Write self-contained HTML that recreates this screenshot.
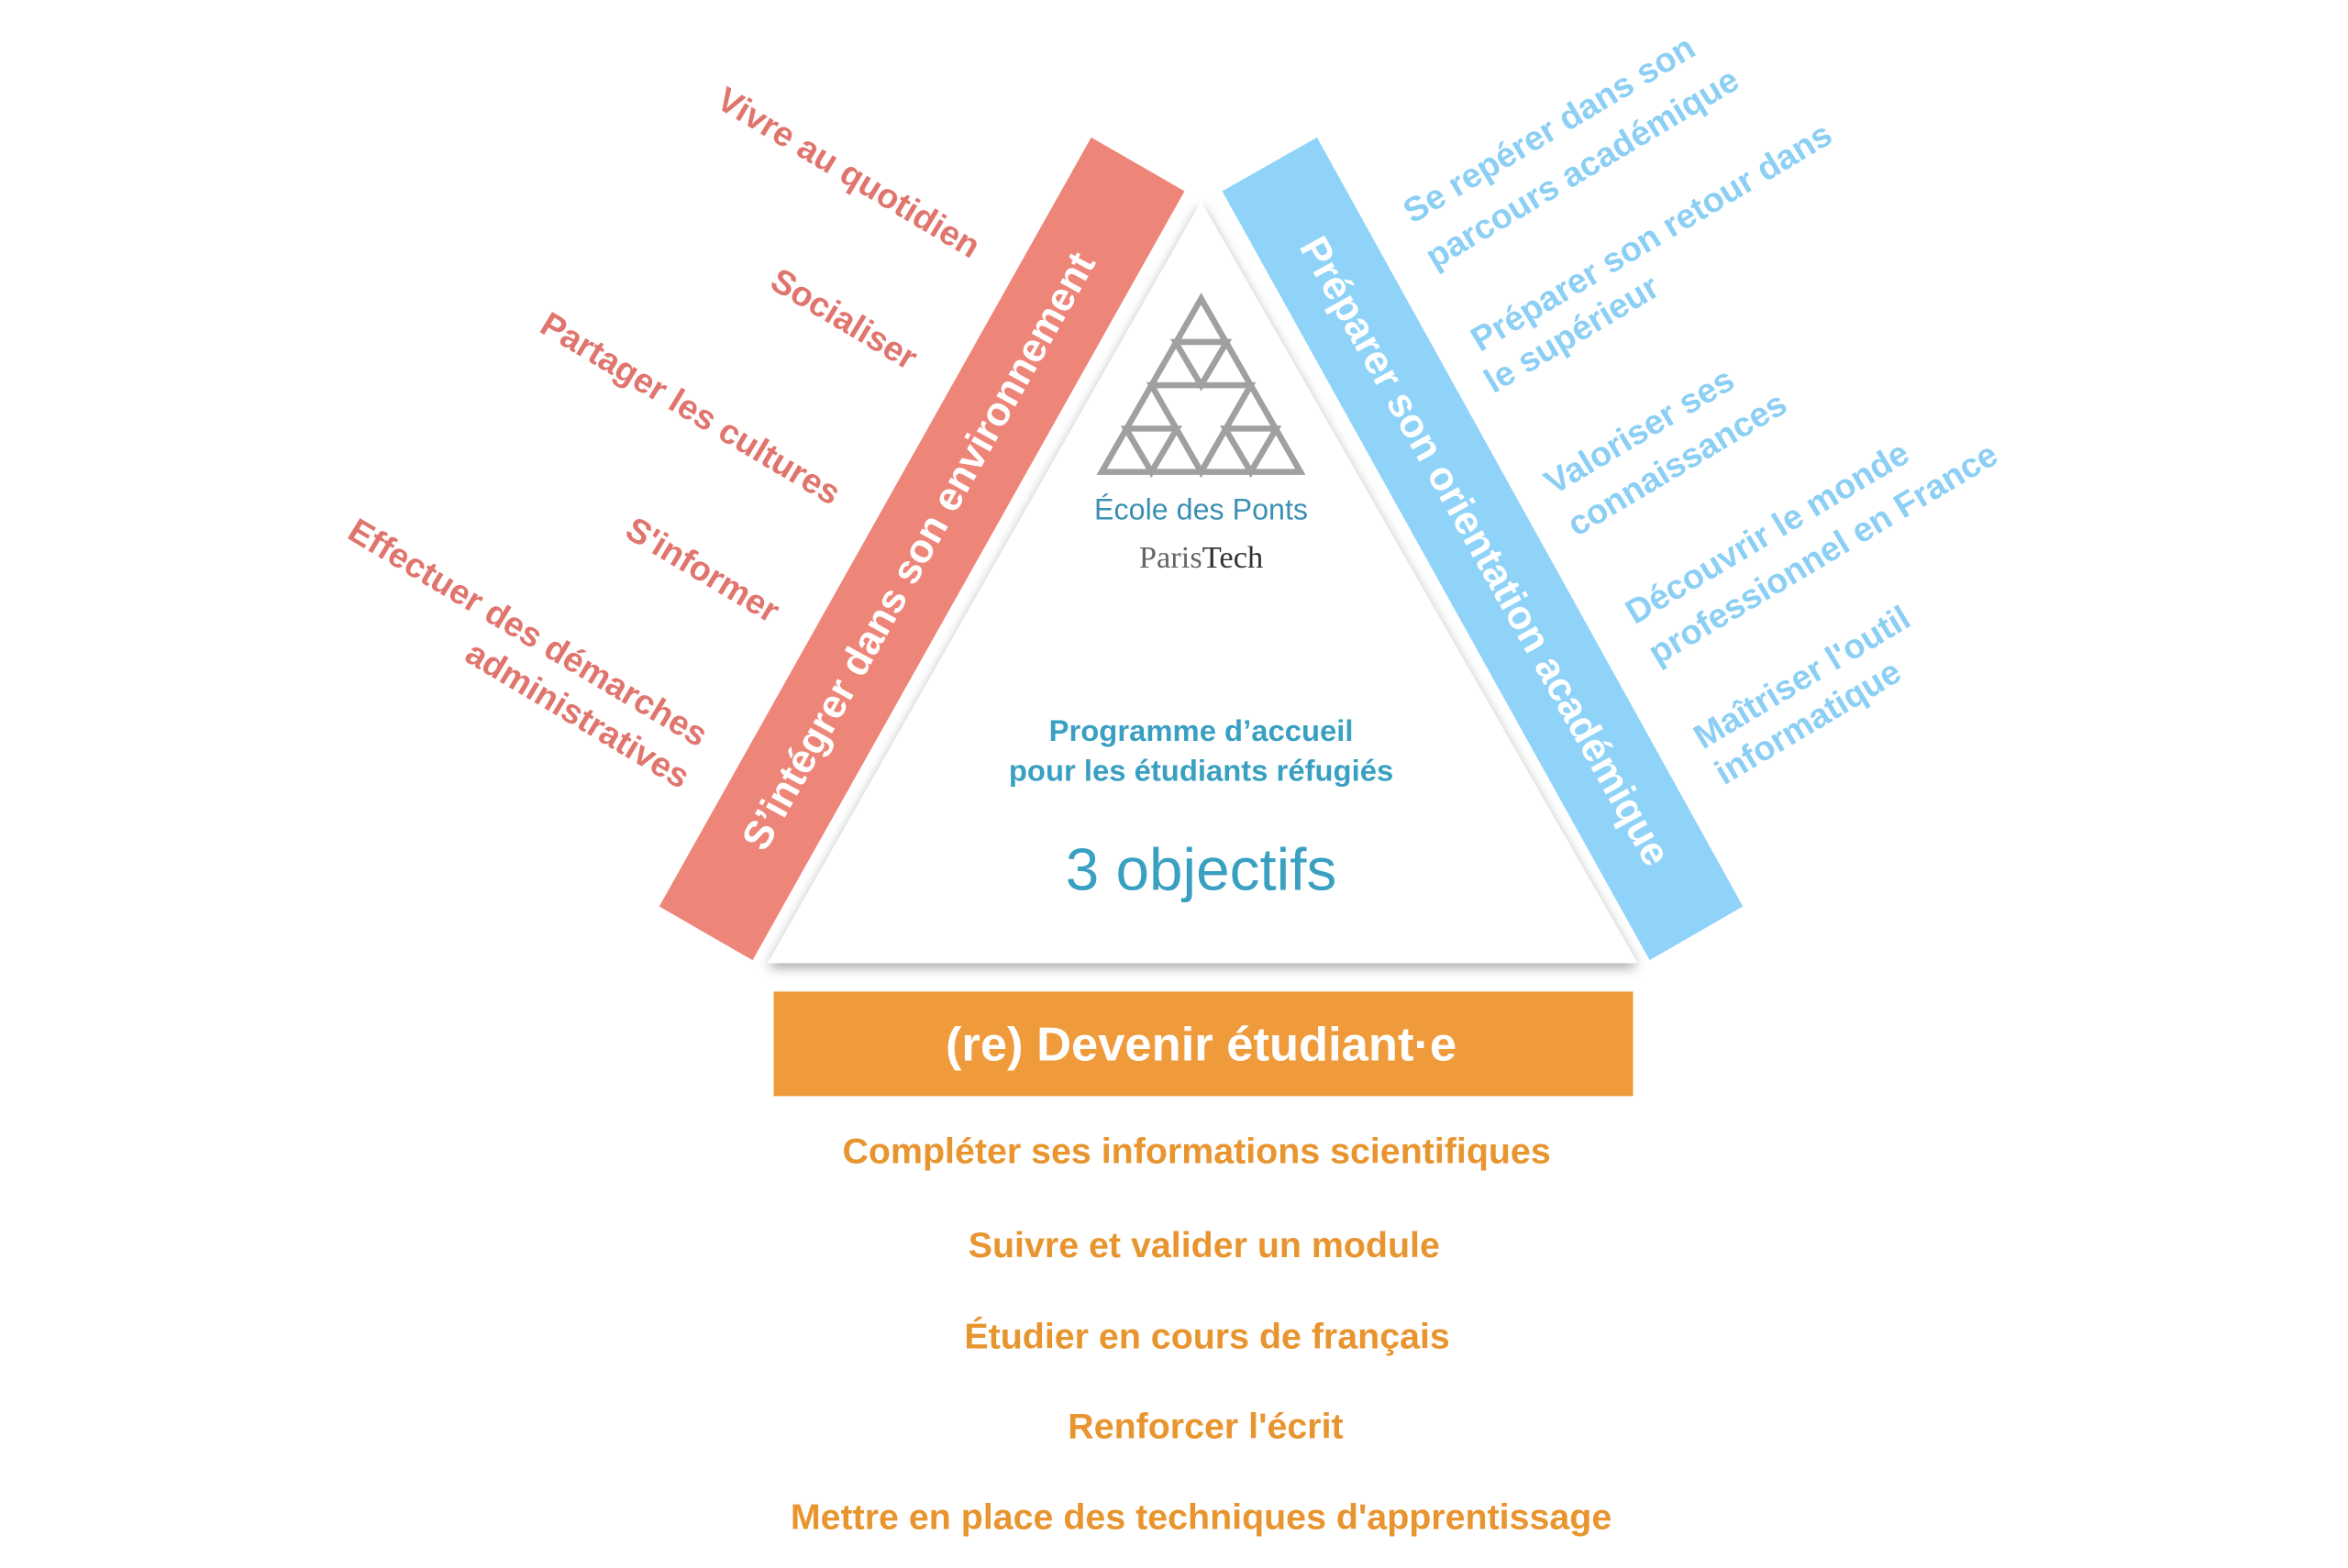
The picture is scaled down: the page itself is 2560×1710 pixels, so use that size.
<!DOCTYPE html>
<html><head><meta charset="utf-8"><style>
html,body{margin:0;padding:0;background:#fff;}
svg{display:block;}
text{font-family:"Liberation Sans",sans-serif;font-weight:bold;}
</style></head><body>
<svg width="2560" height="1710" viewBox="0 0 1560 1050" preserveAspectRatio="none" xmlns="http://www.w3.org/2000/svg">
<defs>
<filter id="sh" x="-10%" y="-10%" width="120%" height="120%"><feGaussianBlur in="SourceAlpha" stdDeviation="4"/><feOffset dx="0" dy="3"/><feComponentTransfer><feFuncA type="linear" slope="0.35"/></feComponentTransfer><feMerge><feMergeNode/><feMergeNode in="SourceGraphic"/></feMerge></filter>
</defs>
<polygon points="798,135 510,645 1088,645" fill="#fff" filter="url(#sh)"/>
<polygon points="725,92 787,128 500,643 438,607" fill="#ee8579"/>
<polygon points="812,128 875,92 1158,607 1096,643" fill="#90d3f9"/>
<text x="612" y="370" transform="rotate(-60.9 612 370)" text-anchor="middle" dominant-baseline="middle" fill="#fff" font-size="27">S’intégrer dans son environnement</text>
<text x="985" y="370" transform="rotate(60.9 985 370)" text-anchor="middle" dominant-baseline="middle" fill="#fff" font-size="27">Préparer son orientation académique</text>
<g fill="none" stroke="#a0a0a0" stroke-width="4">
<polygon points="798,200 732,316 864,316"/>
<polygon points="765,258 831,258 798,316"/>
<polygon points="781,229 815,229 798,258"/>
<polygon points="748,287 782,287 765,316"/>
<polygon points="814,287 848,287 831,316"/>
</g>
<text x="798" y="348" text-anchor="middle" fill="#3a8fb3" font-size="20" style="font-weight:normal" textLength="142" lengthAdjust="spacingAndGlyphs">École des Ponts</text>
<text x="798" y="380" text-anchor="middle" fill="#666" font-size="21" style="font-weight:normal;font-family:'Liberation Serif',serif">Paris<tspan fill="#333">Tech</tspan></text>
<text x="798" y="496" text-anchor="middle" fill="#3aa0c2" font-size="20">Programme d’accueil</text>
<text x="798" y="523" text-anchor="middle" fill="#3aa0c2" font-size="20">pour les étudiants réfugiés</text>
<text x="798" y="596" text-anchor="middle" fill="#3aa0c2" font-size="40" style="font-weight:normal">3 objectifs</text>
<rect x="514" y="664" width="571" height="70" fill="#ef9b3b"/>
<text x="798" y="710" text-anchor="middle" fill="#fff" font-size="32">(re) Devenir étudiant·e</text>
<g fill="#e8952f" font-size="24" text-anchor="middle">
<text x="795" y="779">Compléter ses informations scientifiques</text>
<text x="800" y="842">Suivre et valider un module</text>
<text x="802" y="903">Étudier en cours de français</text>
<text x="801" y="963">Renforcer l'écrit</text>
<text x="798" y="1024">Mettre en place des techniques d'apprentissage</text>
</g>
<g fill="#e0756e" font-size="23" text-anchor="middle" dominant-baseline="middle">
<text transform="translate(563,117) rotate(31)">Vivre au quotidien</text>
<text transform="translate(560,215) rotate(31)">Socialiser</text>
<text transform="translate(458,275) rotate(31)">Partager les cultures</text>
<text transform="translate(466,383) rotate(31)">S'informer</text>
<text transform="translate(350,425) rotate(31)">Effectuer des démarches</text>
<text transform="translate(383,480) rotate(31)">administratives</text>
</g>
<g fill="#8ccff5" font-size="23" text-anchor="middle" dominant-baseline="middle">
<text transform="translate(1030,88) rotate(-31)">Se repérer dans son</text>
<text transform="translate(1052,114) rotate(-31)">parcours académique</text>
<text transform="translate(1098,160) rotate(-31)">Préparer son retour dans</text>
<text transform="translate(1045,225) rotate(-31)">le supérieur</text>
<text transform="translate(1090,290) rotate(-31)">Valoriser ses</text>
<text transform="translate(1115,312) rotate(-31)">connaissances</text>
<text transform="translate(1175,358) rotate(-31)">Découvrir le monde</text>
<text transform="translate(1212,372) rotate(-31)">professionnel en France</text>
<text transform="translate(1198,455) rotate(-31)">Maîtriser l'outil</text>
<text transform="translate(1202,485) rotate(-31)">informatique</text>
</g>
</svg>
</body></html>
